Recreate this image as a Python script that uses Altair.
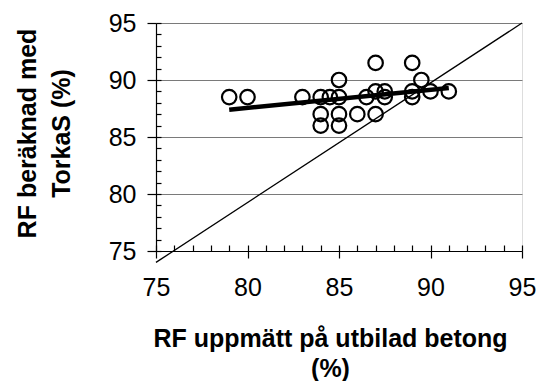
import altair as alt
import pandas as pd

# Measured RH on drilled-out concrete (%) vs RH calculated with TorkaS (%)
meas_x = [79, 80, 83, 84, 84.5, 85, 85, 84, 85, 84, 85, 86, 86.5, 87, 87, 87,
          87.5, 87.5, 89, 89, 89, 89.5, 90, 91]
calc_y = [88.5, 88.5, 88.5, 88.5, 88.5, 88.5, 90, 87, 87, 86, 86, 87, 88.5, 89,
          91.5, 87, 89, 88.5, 91.5, 89, 88.5, 90, 89, 89]

trend_x = [79, 91]
trend_y = [87.4, 89.3]

diag_x = [75, 95]
diag_y = [74, 95]

major_ticks = [75, 80, 85, 90, 95]
minor_ticks = list(range(75, 96))

x_title = ["RF uppmätt på utbilad betong", "(%)"]
y_title = ["RF beräknad med", "TorkaS (%)"]

pts = pd.DataFrame({"x": meas_x, "y": calc_y})
trend = pd.DataFrame({"x": trend_x, "y": trend_y})
diag = pd.DataFrame({"x": diag_x, "y": diag_y})

xs = alt.Scale(domain=[75, 95], nice=False, zero=False)
ys = alt.Scale(domain=[75, 95], nice=False, zero=False)

FONT = "Liberation Sans"
GRID = "#7a7a7a"

x_major = alt.Axis(values=major_ticks, ticks=True, tickSize=7, tickColor="black", tickWidth=1.2,
                   domainColor="black", domainWidth=1.2, grid=False, labelFlush=False,
                   labelFontSize=25, labelFont=FONT, labelColor="black",
                   labelPadding=17, title=x_title, titleFont=FONT,
                   titleFontSize=25, titleFontWeight="bold", titleColor="black",
                   titleX=174, titleY=95, titleAlign="center",
                   titleBaseline="alphabetic", titleLineHeight=30, titleAnchor="middle",
                   zindex=1)
y_major = alt.Axis(values=major_ticks, ticks=True, tickSize=9, tickColor="black", tickWidth=1.2,
                   domainColor="black", domainWidth=1.2, grid=True, labelFlush=False,
                   gridColor=GRID, gridWidth=1,
                   labelFontSize=25, labelFont=FONT, labelColor="black",
                   labelPadding=11, title=y_title, titleFont=FONT,
                   titleFontSize=25, titleFontWeight="bold", titleColor="black",
                   titleX=-141, titleY=110, titleAlign="center", titleAngle=270,
                   titleBaseline="top", titleLineHeight=34)

x_minor = alt.Axis(orient="top", offset=-228, values=minor_ticks, ticks=True, tickSize=6,
                   tickWidth=1.2, tickColor="black", labels=False, domain=False, grid=False,
                   title=None, zindex=1)
y_minor = alt.Axis(orient="right", offset=-366, values=minor_ticks, ticks=True, tickSize=5,
                   tickWidth=1.2, tickColor="black", labels=False, domain=False, grid=False,
                   title=None, zindex=1)

diag_layer = alt.Chart(diag).mark_line(color="black", strokeWidth=1.3).encode(
    x=alt.X("x:Q", scale=xs, axis=x_major),
    y=alt.Y("y:Q", scale=ys, axis=y_major),
)

points = alt.Chart(pts).mark_point(shape="circle", size=210, filled=False,
                                   color="black", strokeWidth=2.2, opacity=1).encode(
    x=alt.X("x:Q", scale=xs, axis=x_minor),
    y=alt.Y("y:Q", scale=ys, axis=y_minor),
)

trend_layer = alt.Chart(trend).mark_line(color="black", strokeWidth=4.5).encode(
    x=alt.X("x:Q", scale=xs, axis=None),
    y=alt.Y("y:Q", scale=ys, axis=None),
)

chart = alt.layer(diag_layer, points, trend_layer).resolve_axis(
    x="independent", y="independent"
).properties(
    width=366, height=228,
    padding={"left": 148, "top": 15, "right": 14, "bottom": 130},
    autosize=alt.AutoSizeParams(type="none"),
).configure_view(stroke=GRID, strokeWidth=1).configure(background="white")

chart.save("out.html", embed_options={"renderer": "svg", "actions": False})
